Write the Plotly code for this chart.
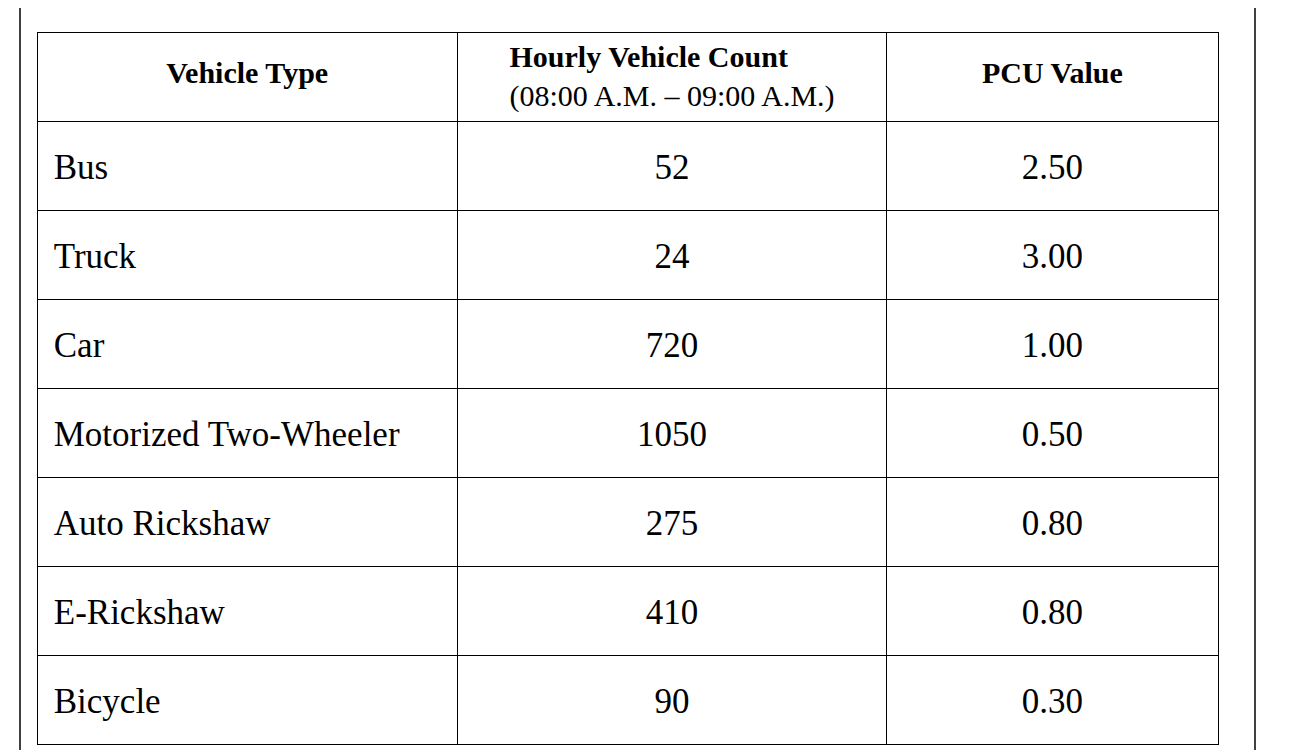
import plotly.graph_objects as go

headers = ["<b>Vehicle Type</b>", "<b>Hourly Vehicle Count</b><br>(08:00 A.M. – 09:00 A.M.)", "<b>PCU Value</b>"]
vehicle_types = ["Bus", "Truck", "Car", "Motorized Two-Wheeler", "Auto Rickshaw", "E-Rickshaw", "Bicycle"]
hourly_counts = ["52", "24", "720", "1050", "275", "410", "90"]
pcu_values = ["2.50", "3.00", "1.00", "0.50", "0.80", "0.80", "0.30"]

pad = "<span style='font-size:4px'> </span><br>"
def padded(lst, lead=""):
    return [pad + lead + s for s in lst]

W, H = 1290, 750
off = 8
fig = go.Figure(go.Table(
    columnwidth=[420, 429, 331],
    header=dict(values=[pad + headers[0], headers[1], pad + headers[2]], height=84, align="center",
                font=dict(family="Liberation Serif", size=30, color="black"),
                fill_color="rgba(0,0,0,0)", line=dict(color="black", width=1)),
    cells=dict(values=[padded(vehicle_types, "\u00a0"), padded(hourly_counts), padded(pcu_values)], height=89,
               align=["left", "center", "center"],
               font=dict(family="Liberation Serif", size=35, color="black"),
               fill_color="rgba(0,0,0,0)", line=dict(color="black", width=1)),
    domain=dict(x=[(37 - off) / W, (1218 - off) / W], y=[0, 1 - (32 - off) / H]),
))
for xp in (20, 1255):
    fig.add_shape(type="line", xref="paper", yref="paper", x0=(xp - off) / W, x1=(xp - off) / W,
                  y0=0, y1=1.02, line=dict(color="black", width=1.5))
fig.update_layout(width=W, height=H, margin=dict(l=0, r=0, t=0, b=0),
                  paper_bgcolor="white", plot_bgcolor="white")
fig.write_html("out.html")
